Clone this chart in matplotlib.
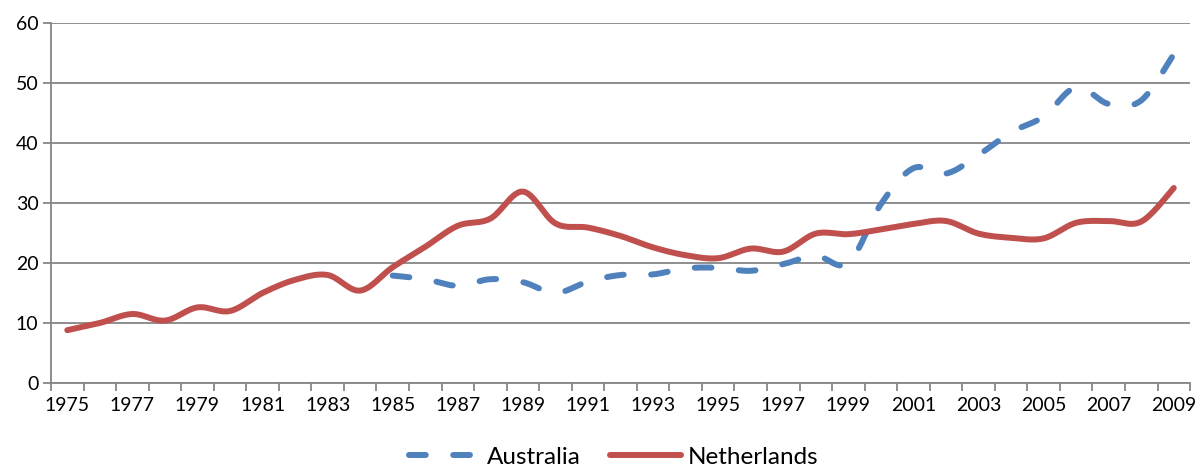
import numpy as np
import matplotlib
matplotlib.use('Agg')
import matplotlib.pyplot as plt

YEARS = list(range(1975, 2010))

NETHERLANDS = [8.8, 10.0, 11.5, 10.4, 12.6, 12.0, 15.0, 17.2, 18.0, 15.4,
               19.3, 22.7, 26.2, 27.4, 31.9, 26.6, 25.9, 24.5, 22.6, 21.3,
               20.8, 22.4, 21.9, 24.9, 24.8, 25.6, 26.5, 27.0, 24.9, 24.2,
               24.1, 26.7, 27.0, 26.9, 32.5]

AUS_YEARS = list(range(1985, 2010))
AUSTRALIA = [17.9, 17.3, 16.2, 17.3, 16.8, 15.0, 16.9, 18.0, 18.1, 19.1,
             19.2, 18.7, 19.8, 21.2, 20.0, 29.8, 35.8, 34.9, 38.0, 41.8,
             44.4, 49.3, 46.5, 47.1, 54.8]

BLUE = '#4F81BD'
RED = '#C0504D'
GRID = '#868686'


def smooth(xs, ys, n=30):
    # Excel-style smoothed line: Catmull-Rom through the points
    xs = np.asarray(xs, float)
    ys = np.asarray(ys, float)
    px = np.concatenate([[xs[0]], xs, [xs[-1]]])
    py = np.concatenate([[ys[0]], ys, [ys[-1]]])
    out_x, out_y = [], []
    t = np.linspace(0, 1, n, endpoint=False)
    for i in range(1, len(px) - 2):
        p0 = np.array([px[i], py[i]])
        p3 = np.array([px[i + 1], py[i + 1]])
        c1 = p0 + (p3 - np.array([px[i - 1], py[i - 1]])) / 6
        c2 = p3 - (np.array([px[i + 2], py[i + 2]]) - p0) / 6
        b = ((1 - t) ** 3)[:, None] * p0 + (3 * (1 - t) ** 2 * t)[:, None] * c1 \
            + (3 * (1 - t) * t ** 2)[:, None] * c2 + (t ** 3)[:, None] * p3
        out_x.extend(b[:, 0])
        out_y.extend(b[:, 1])
    out_x.append(xs[-1])
    out_y.append(ys[-1])
    return np.array(out_x), np.array(out_y)


plt.rcParams['font.family'] = ['Lato', 'DejaVu Sans']

fig = plt.figure(figsize=(11.97, 4.73), dpi=100)
ax = fig.add_axes([0.0426, 0.1903, 0.9516, 0.7611])

xa = [y - 1975 for y in AUS_YEARS]
xn = [y - 1975 for y in YEARS]

sx, sy = smooth(xa, AUSTRALIA)
ax.plot(sx, sy, color=BLUE, lw=4.3, dashes=(2.8, 4.6),
        dash_capstyle='round', label='Australia', zorder=3)
sx, sy = smooth(xn, NETHERLANDS)
ax.plot(sx, sy, color=RED, lw=4.3, solid_capstyle='round',
        label='Netherlands', zorder=4)

ax.set_xlim(-0.5, len(YEARS) - 0.5)
ax.set_ylim(0, 60)
ax.set_yticks(range(0, 61, 10))
ax.grid(axis='y', color=GRID, lw=1.3)
ax.set_axisbelow(True)

ax.set_xticks(range(0, len(YEARS), 2))
ax.set_xticklabels([str(y) for y in YEARS[::2]], fontsize=14)
ax.set_xticks(np.arange(-0.5, len(YEARS), 1), minor=True)
ax.tick_params(axis='x', which='major', length=0, pad=10)
ax.tick_params(axis='x', which='minor', length=6, width=1.3, color=GRID)
ax.tick_params(axis='y', length=6, width=1.3, color=GRID, labelsize=14, pad=3)

for s in ['top', 'right']:
    ax.spines[s].set_visible(False)
for s in ['left', 'bottom']:
    ax.spines[s].set_color(GRID)
    ax.spines[s].set_linewidth(1.3)

fig.legend(loc='lower center', bbox_to_anchor=(0.513, -0.035), ncol=2,
           frameon=False, fontsize=17.5, handlelength=2.9, handletextpad=0.3,
           columnspacing=1.2)

fig.savefig('out.png', dpi=100)
